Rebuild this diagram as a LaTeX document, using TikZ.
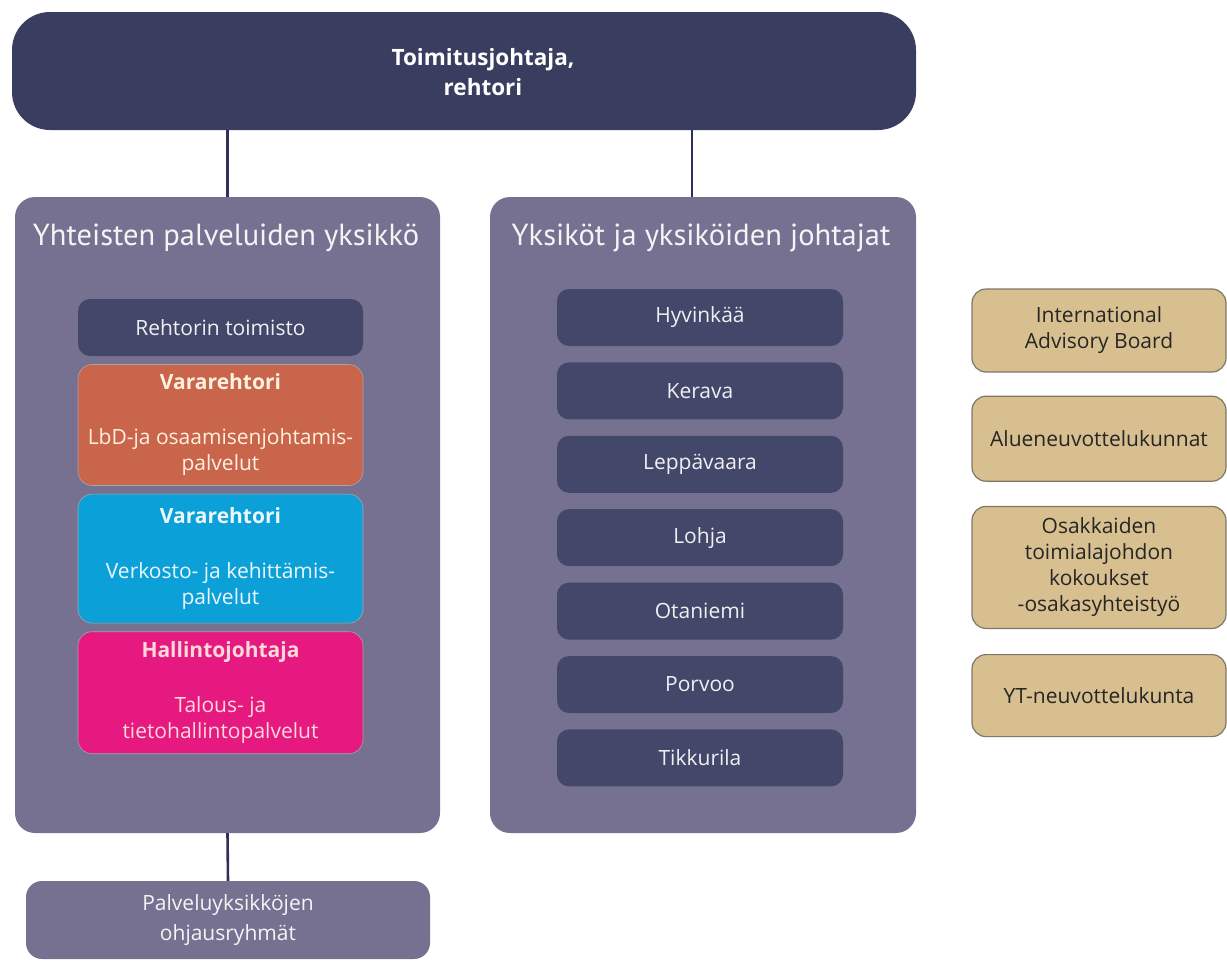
\documentclass[tikz,border=0pt]{standalone}
\usepackage{fontspec}
\setmainfont{Open Sans}
\newfontfamily\titlefont{PT Sans}
\usetikzlibrary{positioning}

\definecolor{bossnavy}{HTML}{393D5F}
\definecolor{panelgray}{HTML}{767190}
\definecolor{unitnavy}{HTML}{434769}
\definecolor{vrorange}{HTML}{C9654A}
\definecolor{vrblue}{HTML}{0CA0D9}
\definecolor{hjpink}{HTML}{E5197F}
\definecolor{boardtan}{HTML}{D7BF8F}
\definecolor{boardedge}{HTML}{7F7767}
\definecolor{linknavy}{HTML}{2E2F5C}

\tikzset{
  panel/.style={fill=panelgray, rounded corners=20pt, inner sep=0pt},
  paneltitle/.style={text=white!92!panelgray, font=\titlefont\fontsize{30.5}{34}\selectfont},
  unitbox/.style={fill=unitnavy, rounded corners=12pt, minimum width=286pt,
    minimum height=57pt, inner sep=0pt, text=white!92!unitnavy,
    font=\fontsize{21}{26}\selectfont},
  officebox/.style={rounded corners=14pt, minimum width=285pt, inner sep=0pt,
    align=center, font=\fontsize{21}{26}\selectfont, draw=black!35, line width=0.6pt},
  boardbox/.style={fill=boardtan, draw=boardedge, line width=1.2pt, rounded corners=14pt,
    minimum width=254pt, inner sep=0pt, align=center, text=black!85,
    font=\fontsize{21}{26}\selectfont},
  link/.style={draw=linknavy, line width=2.6pt}
}

\begin{document}
\begin{tikzpicture}[x=1pt,y=-1pt]
\useasboundingbox (0,0) rectangle (1227,961);
% johto
\node[fill=bossnavy, rounded corners=38pt, minimum width=904pt, minimum height=118pt] (boss) at (464,71) {};
\node[text=white, align=center, font=\bfseries\fontsize{22.5}{30}\selectfont] (bosslabel) at (483,72) {Toimitusjohtaja,\\rehtori};
% paneelit
\node[panel, minimum width=425pt, minimum height=636pt] (shared) at (227.5,515) {};
\node[panel, minimum width=426pt, minimum height=636pt] (units) at (703,515) {};
\node[paneltitle] (sharedtitle) at (226,238) {Yhteisten palveluiden yksikkö};
\node[paneltitle] (unitstitle) at (701,238) {Yksiköt ja yksiköiden johtajat};
\path[link] (shared.north) -- (shared.north |- boss.south);
\path[link] ([xshift=-11pt]units.north) -- ([xshift=-11pt]units.north |- boss.south);
% yhteiset palvelut
\node[unitbox, minimum width=285pt] (office) at (220.5,327.5) {Rehtorin toimisto};
\node[officebox, fill=vrorange, text=orange!12, minimum height=121pt, below=8pt of office] (vr1)
  {\textbf{Vararehtori}\\[29pt]LbD-ja osaamisenjohtamis-\\palvelut};
\node[officebox, fill=vrblue, text=white!92!vrblue, minimum height=129pt, below=8pt of vr1] (vr2)
  {\textbf{Vararehtori}\\[29pt]Verkosto- ja kehittämis-\\palvelut};
\node[officebox, fill=hjpink, text=pink!60!white, minimum height=122pt, below=8pt of vr2] (hj)
  {\textbf{Hallintojohtaja}\\[29pt]Talous- ja\\tietohallintopalvelut};
% yksiköt
\node[unitbox] (hyv) at (700,317.5) {Hyvinkää};
\node[unitbox, below=16pt of hyv] (ker) {Kerava};
\node[unitbox, below=16pt of ker] (lep) {Leppävaara};
\node[unitbox, below=16pt of lep] (loh) {Lohja};
\node[unitbox, below=16pt of loh] (ota) {Otaniemi};
\node[unitbox, below=16pt of ota] (por) {Porvoo};
\node[unitbox, below=16pt of por] (tik) {Tikkurila};
% toimielimet
\node[boardbox, minimum height=83pt] (iab) at (1099,330.5) {International\\Advisory Board};
\node[boardbox, minimum height=85pt, below=23pt of iab] (alue) {Alueneuvottelukunnat};
\node[boardbox, minimum height=122pt, below=24pt of alue] (osak) {Osakkaiden\\toimialajohdon\\kokoukset\\-osakasyhteistyö};
\node[boardbox, minimum height=82pt, below=25pt of osak] (yt) {YT-neuvottelukunta};
% ohjausryhmät
\node[fill=panelgray, rounded corners=16pt, minimum width=404pt, minimum height=78pt,
  align=center, text=white!92!panelgray, font=\fontsize{21}{30}\selectfont] (steer) at (228,920) {Palveluyksikköjen\\ohjausryhmät};
\path[link] (shared.south) -- (steer.north);
\end{tikzpicture}
\end{document}
